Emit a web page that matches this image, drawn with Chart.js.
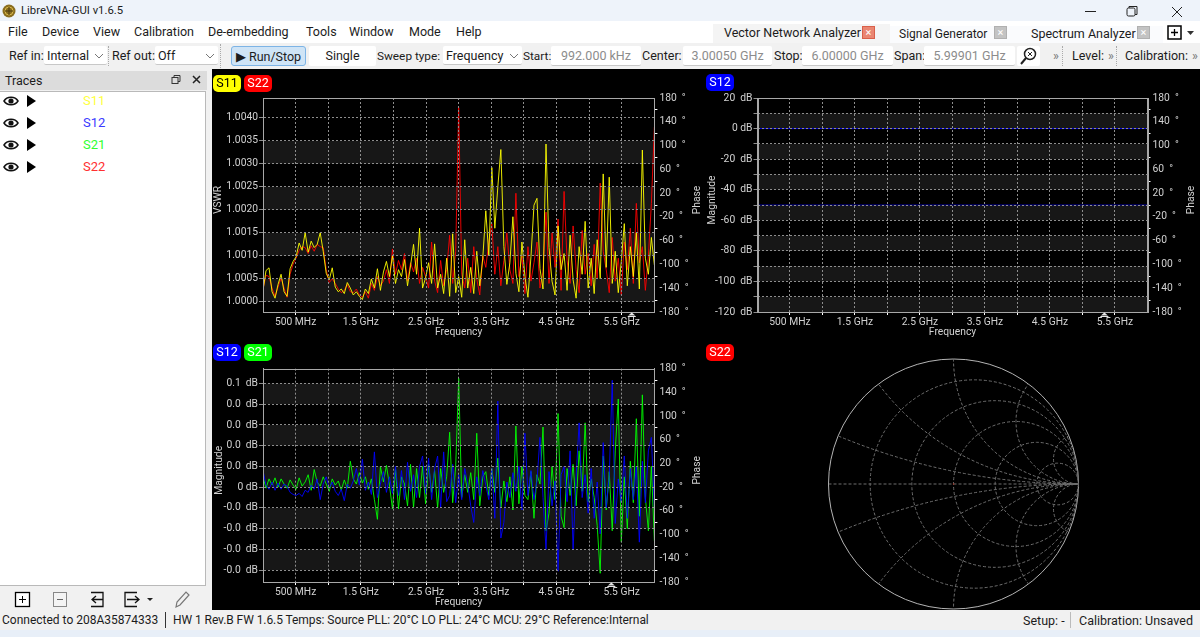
<!DOCTYPE html>
<html>
<head>
<meta charset="utf-8">
<title>LibreVNA-GUI v1.6.5</title>
<script src="https://cdn.jsdelivr.net/npm/chart.js@4/dist/chart.umd.min.js"></script>
<style>
  html, body { margin: 0; padding: 0; width: 1200px; height: 637px; overflow: hidden; background: #e8eff8; }
  body { font-family: Roboto, sans-serif; font-size: 12.5px; color: #1c1c1c; position: relative; }
  .a { position: absolute; white-space: nowrap; }
  .bar { position: absolute; left: 0; width: 1200px; }
  .lbl { position: absolute; top: 46px; height: 20px; line-height: 20px; white-space: nowrap; }
  .box { position: absolute; top: 46px; height: 19px; line-height: 19px; background: #fff; border-bottom: 1px solid #c8c8c8; border-radius: 2px; white-space: nowrap; }
  .field { color: #8c8c8c; text-align: center; }
  .menu { position: absolute; top: 23px; line-height: 18px; }
  .tab { position: absolute; top: 24px; height: 19px; line-height: 18px; }
  .x { position: absolute; top: 26px; width: 13px; height: 13px; line-height: 12px; text-align: center; color: #fff; font-size: 11px; background: #c3c3c3; border: 1px solid #b0b0b0; box-sizing: border-box; }
  .chip { position: absolute; height: 17px; line-height: 16px; width: 28px; text-align: center; border-radius: 5px; }
  .row { position: absolute; left: 83px; line-height: 16px; font-size: 13px; }
  canvas { position: absolute; display: block; }
  .sep { position: absolute; top: 46px; height: 20px; border-left: 1px dotted #aaa; }
</style>
</head>
<body>
<!-- title bar -->
<div class="bar" style="top:0;height:21px;background:#eef3fa"></div>
<svg class="a" style="left:2px;top:4px" width="14" height="14"><circle cx="7" cy="7" r="6.5" fill="#8a6d1f"/><circle cx="7" cy="7" r="4" fill="none" stroke="#d9b84a"/><path d="M7 3v8M3 7h8" stroke="#4a3a10"/></svg>
<div class="a" style="left:21px;top:3px;line-height:16px;font-size:11.3px">LibreVNA-GUI v1.6.5</div>
<svg class="a" style="left:1080px;top:5px" width="110" height="14"><path d="M5 6.5h11" stroke="#222"/><rect x="47" y="3" width="8" height="8" rx="1.5" fill="none" stroke="#222"/><path d="M49 3v-1.500h8v8h-2" fill="none" stroke="#222"/><path d="M92 2l10 10M102 2l-10 10" stroke="#222"/></svg>

<!-- menu bar -->
<div class="bar" style="top:21px;height:22px;background:#fff"></div>
<div class="menu" style="left:8px">File</div>
<div class="menu" style="left:42px">Device</div>
<div class="menu" style="left:93px">View</div>
<div class="menu" style="left:134px">Calibration</div>
<div class="menu" style="left:208px">De-embedding</div>
<div class="menu" style="left:306px">Tools</div>
<div class="menu" style="left:349px">Window</div>
<div class="menu" style="left:409px">Mode</div>
<div class="menu" style="left:456px">Help</div>

<!-- tabs -->
<div class="a" style="left:713px;top:24px;width:177px;height:19px;background:#f4f4f4"></div>
<div class="a" style="left:890px;top:26px;width:273px;height:17px;background:#fafbfd"></div>
<div class="tab" style="left:724px">Vector Network Analyzer</div>
<div class="x" style="left:862px;background:#ea8672;border-color:#d9604a">×</div>
<div class="tab" style="left:899px;top:25px;font-size:12px">Signal Generator</div>
<div class="x" style="left:994px">×</div>
<div class="tab" style="left:1031px;top:25px">Spectrum Analyzer</div>
<div class="x" style="left:1137px">×</div>
<div class="a" style="left:1163px;top:24px;width:34px;height:18px;background:#fff"></div>
<svg class="a" style="left:1167px;top:24px" width="30" height="17"><rect x="1" y="2" width="13" height="13" fill="#fff" stroke="#000" stroke-width="1.500"/><path d="M7.500 5v7M4 8.500h7" stroke="#000" stroke-width="1.300"/><path d="M20 7h7l-3.500 4z" fill="#333"/></svg>

<!-- toolbar -->
<div class="bar" style="top:43px;height:26px;background:#f1f1f1"></div>
<div class="lbl" style="left:9px">Ref in:</div>
<div class="box" style="left:44px;width:63px;padding-left:3px;box-sizing:border-box">Internal</div>
<div class="sep" style="left:108px"></div>
<div class="lbl" style="left:112px">Ref out:</div>
<div class="box" style="left:155px;width:63px;padding-left:3px;box-sizing:border-box">Off</div>
<div class="sep" style="left:220px;top:44px;height:24px"></div>
<div class="a" style="left:231px;top:46px;width:75px;height:20px;line-height:19px;background:#cfe4f6;border:1px solid #7db4e6;border-radius:3px;box-sizing:border-box;text-align:center">▶ Run/Stop</div>
<div class="box" style="left:309px;width:67px;height:20px;text-align:center;border:0">Single</div>
<div class="lbl" style="left:377px;font-size:11.8px">Sweep type:</div>
<div class="box" style="left:443px;width:79px;padding-left:3px;box-sizing:border-box">Frequency</div>
<svg class="a" style="left:0;top:0" width="530" height="70"><path d="M95 54l4 4 4-4M206 54l4 4 4-4M510 54l4 4 4-4" fill="none" stroke="#777"/></svg>
<div class="lbl" style="left:523px;font-size:11.8px">Start:</div>
<div class="box field" style="left:551px;width:90px">992.000 kHz</div>
<div class="lbl" style="left:642px">Center:</div>
<div class="box field" style="left:683px;width:89px">3.00050 GHz</div>
<div class="lbl" style="left:774px">Stop:</div>
<div class="box field" style="left:802px;width:91px">6.00000 GHz</div>
<div class="lbl" style="left:894px">Span:</div>
<div class="box field" style="left:924px;width:91px">5.99901 GHz</div>
<div class="box" style="left:1017px;width:23px;height:20px;border:0"></div>
<svg class="a" style="left:1019px;top:47px" width="19" height="19"><circle cx="11" cy="7" r="5.500" fill="none" stroke="#222" stroke-width="1.500"/><path d="M7 11l-5 6" stroke="#222" stroke-width="2"/><path d="M9 5l4 4M13 5l-4 4" stroke="#222"/></svg>
<div class="lbl" style="left:1053px;color:#777">»</div>
<div class="sep" style="left:1062px"></div>
<div class="lbl" style="left:1072px">Level:</div>
<div class="lbl" style="left:1108px;color:#777">»</div>
<div class="sep" style="left:1116px"></div>
<div class="lbl" style="left:1125px">Calibration:</div>
<div class="lbl" style="left:1192px;color:#777">»</div>

<!-- traces dock -->
<div class="a" style="left:0;top:69px;width:212px;height:541px;background:#f1f1f1"></div>
<div class="a" style="left:0;top:71px;width:207px;height:19px;background:#dcdcdc"></div>
<div class="a" style="left:5px;top:72px;line-height:17px">Traces</div>
<svg class="a" style="left:170px;top:74px" width="34" height="12"><rect x="2" y="3.500" width="6" height="6" fill="none" stroke="#333"/><path d="M4 3.500v-2h6v6h-2" fill="none" stroke="#333"/><path d="M23 2l7 7M30 2l-7 7" stroke="#222" stroke-width="1.500"/></svg>
<div class="a" style="left:0;top:91px;width:206px;height:495px;background:#fff;border:1px solid #b9b9b9;border-left:0;box-sizing:border-box"></div>
<svg class="a" style="left:0;top:90px" width="40" height="90">
  <defs><g id="tr"><path d="M4 11c3-5 11-5 14 0-3 5-11 5-14 0z" fill="#fff" stroke="#111" stroke-width="1.500"/><circle cx="11" cy="11" r="2.600" fill="#111"/><path d="M27 5l9 6-9 6z" fill="#000"/></g></defs>
  <use href="#tr"/><use href="#tr" y="22"/><use href="#tr" y="44"/><use href="#tr" y="66"/>
</svg>
<div class="row" style="top:93px;color:#ffff40">S11</div>
<div class="row" style="top:115px;color:#3a3aff">S12</div>
<div class="row" style="top:137px;color:#30ff30">S21</div>
<div class="row" style="top:159px;color:#ff3030">S22</div>
<svg class="a" style="left:0;top:588px" width="207" height="22">
  <rect x="15.500" y="4.500" width="14" height="14" fill="#fff" stroke="#000" stroke-width="1.300"/><path d="M22.500 8v7M19 11.500h7" stroke="#000"/>
  <rect x="53.500" y="4.500" width="13" height="14" fill="#f4f4f4" stroke="#888"/><path d="M57 11.500h6" stroke="#666"/>
  <path d="M91 4.500h12v14h-12M103 11.500h-11M96 8l-4 3.500 4 3.500" fill="none" stroke="#111" stroke-width="1.300"/>
  <path d="M137 4.500h-12v14h12M127 11.500h12M135 8l4 3.500-4 3.500" fill="none" stroke="#111" stroke-width="1.300"/><path d="M147 10h6l-3 3z" fill="#222"/>
  <path d="M176 19l1-5 9-10 3 3-9 10z" fill="none" stroke="#777" stroke-width="1.200"/>
</svg>

<!-- black plot region -->
<div class="a" style="left:212px;top:69px;width:988px;height:541px;background:#000"></div>
<canvas id="vswrChart" width="492" height="270" style="left:212px;top:70px"></canvas>
<canvas id="s12Chart" width="496" height="270" style="left:704px;top:70px"></canvas>
<canvas id="transChart" width="492" height="270" style="left:212px;top:340px"></canvas>
<canvas id="smithChart" width="496" height="270" style="left:704px;top:340px"></canvas>
<div class="chip" style="left:213px;top:75px;background:#ff0;color:#000">S11</div>
<div class="chip" style="left:244px;top:75px;background:#f00;color:#fff">S22</div>
<div class="chip" style="left:706px;top:74px;background:#00f;color:#fff">S12</div>
<div class="chip" style="left:213px;top:344px;background:#00f;color:#fff">S12</div>
<div class="chip" style="left:244px;top:344px;background:#0f0;color:#fff">S21</div>
<div class="chip" style="left:706px;top:344px;background:#f00;color:#fff">S22</div>

<!-- status bar -->
<div class="bar" style="top:610px;height:20px;background:#f1f1f1"></div>
<div class="a" style="left:2px;top:612px;line-height:17px;font-size:12px">Connected to 208A35874333</div>
<div class="a" style="left:165px;top:612px;height:16px;border-left:1px solid #333"></div>
<div class="a" style="left:173px;top:612px;line-height:17px;font-size:12px;letter-spacing:-0.07px">HW 1 Rev.B FW 1.6.5 Temps: Source PLL: 20°C LO PLL: 24°C MCU: 29°C Reference:Internal</div>
<div class="a" style="left:1023px;top:612px;line-height:17px">Setup: -</div>
<div class="a" style="left:1070px;top:612px;height:16px;border-left:1px solid #bbb"></div>
<div class="a" style="left:1079px;top:612px;line-height:17px">Calibration: Unsaved</div>

<script>
// sweep, GHz
const sweepStart = 0.000992;
const sweepStop = 6;
const freqTicks = [0.5, 1, 1.5, 2, 2.5, 3, 3.5, 4, 4.5, 5, 5.5];
const freqLabels = ['500 MHz', '', '1.5 GHz', '', '2.5 GHz', '', '3.5 GHz', '', '4.5 GHz', '', '5.5 GHz'];
const phaseTicks = [-180, -160, -140, -120, -100, -80, -60, -40, -20, 0, 20, 40, 60, 80, 100, 120, 140, 160, 180];

// VSWR above 1, in units of 0.00001
const s11Vswr = [25, 68, 74, 22, 8, 38, 60, 22, 12, 72,
  88, 98, 128, 112, 150, 108, 132, 118, 125, 150,
  110, 62, 48, 74, 32, 22, 28, 18, 42, 30,
  15, 22, 12, 5, 28, 18, 50, 30, 72, 25,
  65, 88, 55, 100, 40, 70, 55, 92, 35, 78,
  125, 60, 160, 30, 52, 85, 40, 126, 30, 60,
  18, 95, 12, 148, 20, 55, 10, 135, 30, 75,
  18, 110, 35, 95, 198, 100, 292, 160, 250, 331,
  120, 38, 85, 185, 62, 22, 130, 55, 10, 98,
  210, 225, 72, 28, 343, 118, 45, 15, 165, 70,
  105, 25, 145, 48, 8, 120, 60, 175, 30, 95,
  18, 135, 50, 278, 75, 271, 40, 110, 20, 88,
  170, 35, 120, 55, 150, 28, 330, 95, 60, 140, 80];
const s22Vswr = [28, 58, 55, 30, 12, 32, 52, 30, 10, 60,
  82, 95, 112, 120, 118, 105, 122, 110, 125, 120,
  118, 70, 42, 50, 40, 28, 20, 25, 38, 22,
  20, 28, 15, 10, 22, 8, 40, 25, 55, 35,
  45, 70, 40, 115, 60, 90, 70, 105, 45, 85,
  65, 95, 40, 75, 55, 30, 130, 45, 20, 90,
  35, 70, 145, 40, 110, 422, 60, 30, 95, 20,
  120, 50, 15, 100, 75, 130, 170, 60, 120, 35,
  90, 150, 70, 40, 236, 55, 100, 18, 120, 45,
  85, 130, 30, 65, 195, 40, 150, 75, 180, 25,
  240, 90, 40, 165, 70, 20, 155, 60, 105, 35,
  125, 50, 258, 110, 70, 20, 140, 45, 95, 15,
  130, 70, 160, 40, 214, 85, 120, 25, 100, 214, 380];

// magnitude in units of 0.001 dB
const s12Mag = [16, 2, -2, 5, -3, 4, -2, 3, 1, -5,
  -7, -8, -6, -9, -3, -5, 2, -2, 8, -12,
  3, 10, -1, 5, -4, -8, -2, -13, 3, -1,
  6, 18, 2, 27, -3, 5, -7, 34, -10, 3,
  15, -5, 10, -6, 20, -8, 16, -12, 24, -4,
  12, -10, 20, 30, -6, 28, -12, 18, 30, -20,
  34, -14, -8, 22, -15, 12, -12, 18, 3, -18,
  -34, 10, -8, 16, 2, -12, 18, -30, 83, -49,
  -34, 5, -10, 14, -4, 20, -22, 52, -8, 16,
  -12, 6, 48, -10, -60, 15, -18, 6, -81, 12,
  20, -14, 35, -60, 10, 62, -10, 12, -25, 18,
  -30, 5, -45, 43, -20, 10, 103, -35, 8, -15,
  30, -30, 18, -12, 20, -53, 25, -15, 35, 48, -20];
const s21Mag = [10, -1, 8, 2, 9, 0, 8, 3, -1, 7,
  2, -2, 9, 1, 5, 12, -3, 17, 5, 1,
  10, 3, -4, 8, 2, 6, -3, 7, -1, 25,
  8, 3, 14, 4, 10, -2, 8, -12, -31, 20,
  5, 21, 2, -21, 18, -21, 10, 3, -18, 22,
  -20, 18, -10, 20, -16, 22, -5, 16, -20, 18,
  -5, 10, 53, -15, 20, 105, -10, 12, -5, 14,
  -12, 52, -18, 10, 15, -8, 18, -5, 28, -20,
  6, -14, 10, -22, 59, -16, 20, -8, -12, 15,
  -30, 12, 3, 58, -42, -25, 20, -12, 71, -28,
  -39, 18, -8, 22, -18, 35, -4, 62, -14, 8,
  -10, -37, -83, 30, -22, 15, -42, 35, 85, -53,
  10, -40, 25, -15, 66, -28, 89, -10, -42, 20, -52];

// S12 in the top right plot is flat
const s12FlatFreq = [0.001, 1.5, 3, 4.5, 6];
const s12FlatDb = [0, 0, 0, 0, 0];
const s12FlatPhase = [0, 0, 0, 0, 0];

// S22 on the smith chart, a single spot in the middle
const s22Smith = [0.0005];

const vswrTicks = [1.0000, 1.0005, 1.0010, 1.0015, 1.0020, 1.0025, 1.0030, 1.0035, 1.0040];
const dbTicks = [-120, -110, -100, -90, -80, -70, -60, -50, -40, -30, -20, -10, 0, 10, 20];
const transTicks = [-0.08, -0.06, -0.04, -0.02, 0, 0.02, 0.04, 0.06, 0.08, 0.1];
const transLabels = ['-0.0  dB', '-0.0  dB', '-0.0  dB', '-0.0  dB', '0 dB', '0.0  dB', '0.0  dB', '0.0  dB', '0.0  dB', '0.1  dB'];
const smithCircles = [0.2, 0.5, 1, 2, 5];

const sweepStep = (sweepStop - sweepStart) / (s11Vswr.length - 1);
const freqs = s11Vswr.map((v, i) => sweepStart + i * sweepStep);

const labelColor = '#d2d2d2';
const gridColor = '#8e8e8e';
const font = { family: 'Roboto', size: 10.3 };
Chart.defaults.font.family = 'Roboto';

// darker stripes between every other y tick, under the grid
const bands = {
  id: 'bands',
  beforeDraw(chart, args, opts) {
    const { ctx, chartArea, scales } = chart;
    ctx.save();
    ctx.fillStyle = '#171717';
    for (let i = 0; i + 1 < opts.ticks.length; i += 2) {
      const a = scales.y.getPixelForValue(opts.ticks[i]);
      const b = scales.y.getPixelForValue(opts.ticks[i + 1]);
      ctx.fillRect(chartArea.left, b, chartArea.right - chartArea.left, a - b);
    }
    ctx.restore();
  }
};

// solid plot frame and the little sweep position arrow under the x axis
const sweepMark = {
  id: 'sweepMark',
  afterDraw(chart, args, opts) {
    const { ctx, chartArea, scales } = chart;
    const x = scales.x.getPixelForValue(opts.value);
    const y = chartArea.bottom;
    ctx.save();
    ctx.strokeStyle = '#a8a8a8';
    ctx.lineWidth = 1;
    ctx.strokeRect(Math.round(chartArea.left) + 0.5, Math.round(chartArea.top) + 0.5,
      Math.round(chartArea.right - chartArea.left), Math.round(chartArea.bottom - chartArea.top));
    ctx.fillStyle = '#e8e8e8';
    ctx.beginPath();
    ctx.moveTo(x, y + 0.5);
    ctx.lineTo(x + 3.5, y + 3.5);
    ctx.lineTo(x - 3.5, y + 3.5);
    ctx.fill();
    ctx.fillRect(x - 4, y + 4, 8, 1);
    ctx.restore();
  }
};

// y titles both read upwards, chart.js would turn the right one the other way
const sideTitles = {
  id: 'sideTitles',
  afterDraw(chart, args, opts) {
    const { ctx, chartArea } = chart;
    const y = (chartArea.top + chartArea.bottom) / 2 - 5;
    const put = (text, x) => {
      ctx.save();
      ctx.translate(x, y);
      ctx.rotate(-Math.PI / 2);
      ctx.fillStyle = labelColor;
      ctx.font = font.size + 'px ' + font.family;
      ctx.textAlign = 'center';
      ctx.textBaseline = 'middle';
      ctx.fillText(text, 0, 0);
      ctx.restore();
    };
    put(opts.left, opts.leftX);
    put('Phase', chart.width - opts.rightInset);
  }
};

function xAxis() {
  return {
    type: 'linear', min: sweepStart, max: sweepStop,
    afterBuildTicks: s => { s.ticks = freqTicks.map(v => ({ value: v })); },
    afterFit: s => { s.height = 28; },
    ticks: { color: labelColor, font, autoSkip: false, maxRotation: 0, padding: 1, callback: (v, i) => freqLabels[i] },
    grid: { color: gridColor, tickColor: '#fff', tickLength: 3, tickBorderDash: [], z: 1 },
    border: { color: '#a8a8a8', dash: [2, 2], z: 2 },
    title: { display: true, text: 'Frequency', color: labelColor, font, padding: { top: 0, bottom: 1 } }
  };
}

function yAxis(min, max, ticks, label, width) {
  return {
    position: 'left', min, max,
    afterBuildTicks: s => { s.ticks = ticks.map(v => ({ value: v })); },
    afterFit: s => { s.width = width; },
    ticks: { color: labelColor, font, autoSkip: false, padding: 1, callback: label },
    grid: { color: gridColor, tickColor: gridColor, tickLength: 4, z: 1 },
    border: { color: '#a8a8a8', dash: [2, 2], z: 2 }
  };
}

function phaseAxis(width) {
  return {
    position: 'right', min: -180, max: 180,
    afterBuildTicks: s => { s.ticks = phaseTicks.map(v => ({ value: v })); },
    afterFit: s => { s.width = width; },
    ticks: {
      color: labelColor, font, autoSkip: false, padding: 2,
      callback: v => ((v + 180) % 40 === 0 ? v + '  °' : '')
    },
    grid: {
      drawOnChartArea: false, tickLength: 3,
      tickColor: c => ((c.tick.value + 180) % 40 === 20 ? '#fff' : 'rgba(0,0,0,0)')
    },
    border: { color: '#a8a8a8' }
  };
}

function line(color, xs, ys, axis) {
  return {
    data: xs.map((x, i) => ({ x, y: ys[i] })),
    borderColor: color, borderWidth: 0.9, pointRadius: 0, tension: 0, yAxisID: axis || 'y'
  };
}

function vnaChart(id, datasets, y, right, bandTicks, markAt, pad, titles) {
  return new Chart(document.getElementById(id), {
    type: 'line',
    data: { datasets },
    options: {
      responsive: false, animation: false, events: [],
      layout: { padding: { top: pad }, autoPadding: false },
      scales: { x: xAxis(), y, yR: right },
      plugins: {
        legend: { display: false }, tooltip: { enabled: false },
        bands: { ticks: bandTicks }, sweepMark: { value: markAt }, sideTitles: titles
      }
    },
    plugins: [bands, sweepMark, sideTitles]
  });
}

vnaChart('vswrChart', [
  line('#ffff00', freqs, s11Vswr.map(v => 1 + v * 1e-5)),
  line('#ff0000', freqs, s22Vswr.map(v => 1 + v * 1e-5))
], yAxis(0.99978, 1.00443, vswrTicks, v => v.toFixed(4), 51), phaseAxis(49.6), vswrTicks, 5.653, 28,
  { left: 'VSWR', leftX: 6.5, rightInset: 7 });

vnaChart('s12Chart', [
  line('#0000ff', s12FlatFreq, s12FlatDb),
  line('#0000b0', s12FlatFreq, s12FlatPhase, 'yR')
], yAxis(-120, 20, dbTicks, v => (v % 20 === 0 ? (v === 0 ? '0 dB' : v + '  dB') : ''), 53.5), phaseAxis(52.5), dbTicks, 5.337, 28,
  { left: 'Magnitude', leftX: 8, rightInset: 9 });

vnaChart('transChart', [
  line('#0000ff', freqs, s12Mag.map(v => v * 1e-3)),
  line('#00ff00', freqs, s21Mag.map(v => v * 1e-3))
], yAxis(-0.0914, 0.1142, transTicks, (v, i) => transLabels[i], 51), phaseAxis(49.6), transTicks, 5.34, 28.7,
  { left: 'Magnitude', leftX: 7, rightInset: 7 });

// smith chart grid: constant resistance and reactance circles, in reflection coefficient units
const smithGrid = {
  id: 'smithGrid',
  beforeDatasetsDraw(chart) {
    const { ctx, scales } = chart;
    const px = scales.x.getPixelForValue(0);
    const py = scales.y.getPixelForValue(0);
    const unit = scales.x.getPixelForValue(1) - px;
    ctx.save();
    ctx.beginPath();
    ctx.arc(px, py, unit, 0, Math.PI * 2);
    ctx.strokeStyle = '#b4b4b4';
    ctx.lineWidth = 1;
    ctx.stroke();
    ctx.clip();
    ctx.strokeStyle = '#6e6e6e';
    ctx.setLineDash([3, 2]);
    ctx.beginPath();
    ctx.moveTo(px - unit, py);
    ctx.lineTo(px + unit, py);
    ctx.stroke();
    smithCircles.forEach(r => {
      ctx.beginPath();
      ctx.arc(scales.x.getPixelForValue(r / (1 + r)), py, unit / (1 + r), 0, Math.PI * 2);
      ctx.stroke();
      [1, -1].forEach(sign => {
        ctx.beginPath();
        ctx.arc(scales.x.getPixelForValue(1), scales.y.getPixelForValue(sign / r), unit / r, 0, Math.PI * 2);
        ctx.stroke();
      });
    });
    ctx.restore();
  }
};

new Chart(document.getElementById('smithChart'), {
  type: 'scatter',
  data: { datasets: [{ data: s22Smith.map(v => ({ x: v, y: 0 })), backgroundColor: '#a03020', pointRadius: 0.8, borderWidth: 0 }] },
  options: {
    responsive: false, animation: false, events: [],
    layout: { autoPadding: false },
    scales: {
      x: { display: false, min: -1.996, max: 1.972 },
      y: { display: false, min: -1.008, max: 1.152 }
    },
    plugins: { legend: { display: false }, tooltip: { enabled: false } }
  },
  plugins: [smithGrid]
});
</script>
</body>
</html>
